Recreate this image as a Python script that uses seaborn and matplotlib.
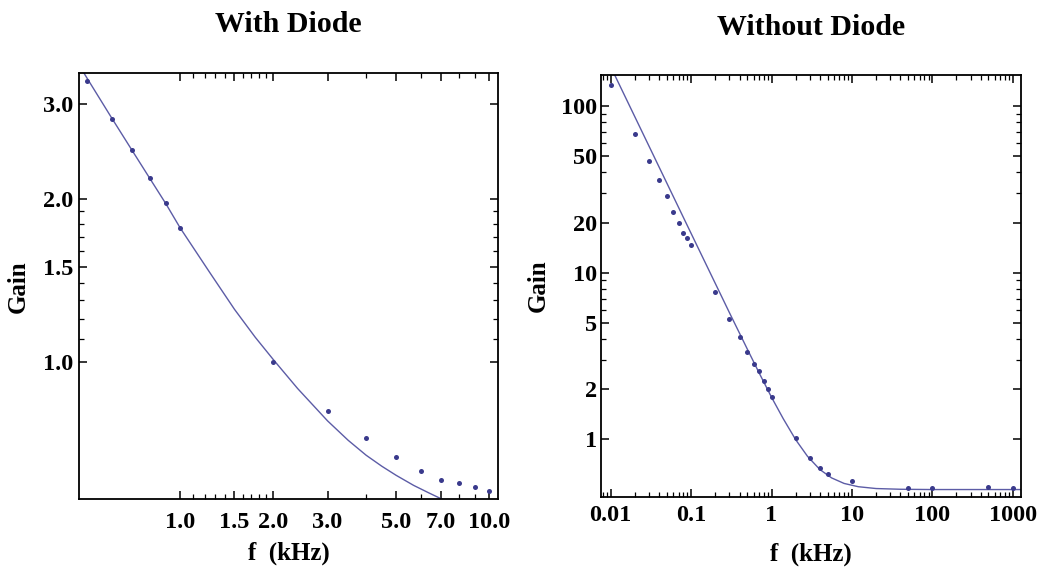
import matplotlib
matplotlib.use("Agg")
import matplotlib.pyplot as plt
from matplotlib.ticker import NullFormatter
import pandas as pd
import seaborn as sns

# Measured gain, circuit with diode
f_diode = [0.5, 0.6, 0.7, 0.8, 0.9, 1.0, 2.0, 3.0, 4.0, 5.0, 6.0, 7.0, 8.0, 9.0, 10.0]
gain_diode = [3.31, 2.81, 2.47, 2.19, 1.97, 1.77, 1.00, 0.81, 0.723, 0.665, 0.627,
              0.604, 0.597, 0.586, 0.576]

# Fitted curve, circuit with diode
f_fit_diode = [0.47, 0.5, 0.6, 0.7, 0.8, 0.9, 1.0, 1.25, 1.5, 1.75, 2.0, 2.4, 3.0,
               3.5, 4.0, 4.5, 5.0, 5.7, 6.4, 7.1, 7.6]
gain_fit_diode = [3.55, 3.35, 2.83, 2.46, 2.18, 1.96, 1.77, 1.46, 1.25, 1.11, 1.01,
                  0.892, 0.777, 0.715, 0.671, 0.640, 0.616, 0.590, 0.571, 0.555, 0.546]

# Measured gain, circuit without diode
f_plain = [0.01, 0.02, 0.03, 0.04, 0.05, 0.06, 0.07, 0.08, 0.09, 0.1, 0.2, 0.3, 0.4,
           0.5, 0.6, 0.7, 0.8, 0.9, 1.0, 2.0, 3.0, 4.0, 5.0, 10.0, 50.0, 100.0,
           500.0, 1000.0]
gain_plain = [134, 68, 46.5, 35.8, 28.8, 23.0, 20.0, 17.4, 16.1, 14.6, 7.7, 5.27, 4.13,
              3.33, 2.83, 2.57, 2.25, 2.0, 1.79, 1.02, 0.772, 0.67, 0.622, 0.56, 0.508,
              0.508, 0.515, 0.508]

# Fitted curve, circuit without diode
f_fit_plain = [0.0095, 0.1, 0.3, 0.5, 0.7, 1.0, 1.4, 2.0, 2.8, 4.0, 5.6, 8.0, 12.0,
               20.0, 40.0, 100.0, 1300.0]
gain_fit_plain = [181, 17.2, 5.75, 3.48, 2.51, 1.79, 1.33, 0.995, 0.792, 0.659, 0.587,
                  0.544, 0.520, 0.507, 0.502, 0.500, 0.500]

# Tick values and labels
xt_diode = [1.0, 1.5, 2.0, 3.0, 5.0, 7.0, 10.0]
xt_diode_lab = ["1.0", "1.5", "2.0", "3.0", "5.0", "7.0", "10.0"]
xt_diode_minor = [1.1, 1.2, 1.3, 1.4, 1.6, 1.7, 1.8, 1.9, 4.0, 6.0, 8.0, 9.0]
yt_diode = [1.0, 1.5, 2.0, 3.0]
yt_diode_lab = ["1.0", "1.5", "2.0", "3.0"]
yt_diode_minor = [1.1, 1.2, 1.3, 1.4, 1.6, 1.7, 1.8, 1.9]

xt_plain = [0.01, 0.1, 1, 10, 100, 1000]
xt_plain_lab = ["0.01", "0.1", "1", "10", "100", "1000"]
yt_plain = [1, 2, 5, 10, 20, 50, 100]
yt_plain_lab = ["1", "2", "5", "10", "20", "50", "100"]

sns.set_theme(style="ticks")
plt.rcParams["font.family"] = ["Liberation Serif", "DejaVu Serif"]
plt.rcParams["font.weight"] = "bold"
plt.rcParams["text.color"] = "black"
plt.rcParams["axes.labelcolor"] = "black"
plt.rcParams["xtick.color"] = "black"
plt.rcParams["ytick.color"] = "black"

point_color = "#3a3a8c"
line_color = "#5c5ca6"

fig = plt.figure(figsize=(10.4, 5.67), dpi=100)
ax1 = fig.add_axes([0.076, 0.1194, 0.403, 0.7513])
ax2 = fig.add_axes([0.5779, 0.124, 0.4038, 0.7437])

df1 = pd.DataFrame({"f": f_diode, "gain": gain_diode})
fit1 = pd.DataFrame({"f": f_fit_diode, "gain": gain_fit_diode})
df2 = pd.DataFrame({"f": f_plain, "gain": gain_plain})
fit2 = pd.DataFrame({"f": f_fit_plain, "gain": gain_fit_plain})

for ax, df, fit in ((ax1, df1, fit1), (ax2, df2, fit2)):
    ax.set_xscale("log")
    ax.set_yscale("log")
    sns.lineplot(data=fit, x="f", y="gain", ax=ax, color=line_color, linewidth=1.0,
                 sort=False, estimator=None)
    sns.scatterplot(data=df, x="f", y="gain", ax=ax, color=point_color, s=13,
                    linewidth=0, zorder=3)
    for s in ax.spines.values():
        s.set_visible(True)
        s.set_linewidth(1.3)
        s.set_color("black")
    ax.tick_params(which="both", direction="in", top=True, right=True,
                   colors="black", labelcolor="black", labelsize=17.5)
    ax.tick_params(which="major", length=6, width=1.1)
    ax.tick_params(which="minor", length=3.5, width=0.9)
    ax.set_xlabel("f  (kHz)", fontsize=18, fontweight="bold", color="black")
    ax.set_ylabel("Gain", fontsize=18, fontweight="bold", color="black")

# Left panel
ax1.set_xlim(0.471, 10.7)
ax1.set_ylim(0.556, 3.42)
ax1.set_xticks(xt_diode, xt_diode_lab)
ax1.set_xticks(xt_diode_minor, minor=True)
ax1.set_yticks(yt_diode, yt_diode_lab)
ax1.set_yticks(yt_diode_minor, minor=True)
ax1.xaxis.set_minor_formatter(NullFormatter())
ax1.yaxis.set_minor_formatter(NullFormatter())
ax1.tick_params(axis="x", which="major", pad=9)
ax1.tick_params(axis="y", which="major", pad=4)
ax1.set_title("With Diode", fontsize=21.5, fontweight="bold", pad=29.5, color="black")
ax1.yaxis.set_label_coords(-0.118, 0.5)
ax1.xaxis.set_label_coords(0.5, -0.1)

# Right panel
ax2.set_xlim(0.00757, 1268)
ax2.set_ylim(0.453, 153.5)
ax2.set_xticks(xt_plain, xt_plain_lab)
minor_x = [m * 10.0 ** e for e in range(-3, 4) for m in range(2, 10)]
ax2.set_xticks([v for v in minor_x if 0.00757 < v < 1268], minor=True)
ax2.set_yticks(yt_plain, yt_plain_lab)
minor_y = [m * 10.0 ** e for e in range(0, 3) for m in (3, 4, 6, 7, 8, 9)]
ax2.set_yticks([v for v in minor_y if v < 153.5], minor=True)
ax2.xaxis.set_minor_formatter(NullFormatter())
ax2.yaxis.set_minor_formatter(NullFormatter())
ax2.tick_params(axis="x", which="major", pad=6)
ax2.tick_params(axis="y", which="major", pad=3)
ax2.set_title("Without Diode", fontsize=21.5, fontweight="bold", pad=29, color="black")
ax2.yaxis.set_label_coords(-0.122, 0.5)
ax2.xaxis.set_label_coords(0.5, -0.108)

fig.savefig("out.png", dpi=100, facecolor="white")
